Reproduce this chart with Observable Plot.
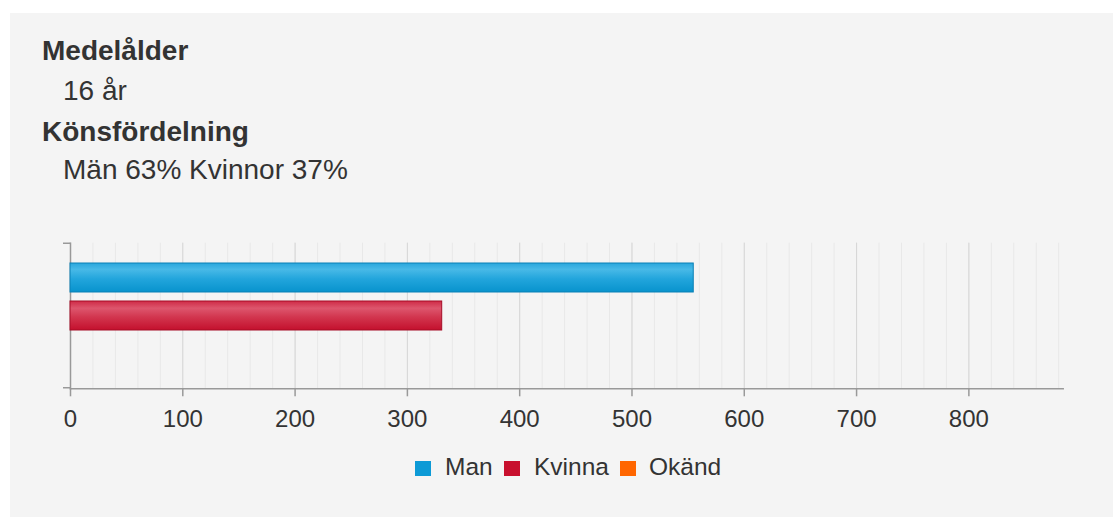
<!DOCTYPE html>
<html>
<head>
<meta charset="utf-8">
<script src="https://cdn.jsdelivr.net/npm/d3@7"></script>
<script src="https://cdn.jsdelivr.net/npm/@observablehq/plot@0.6"></script>
<style>
  html, body { margin: 0; padding: 0; background: #ffffff; }
  body { width: 1113px; height: 517px; position: relative; overflow: hidden;
         font-family: "Liberation Sans", Arial, sans-serif; color: #333; }
  #panel { position: absolute; left: 10px; top: 13px; right: 0; bottom: 0; background: #f4f4f4; }
  .t { position: absolute; white-space: nowrap; line-height: 1; font-size: 28px; color: #333; }
  .b { font-weight: bold; }
  #chart { position: absolute; left: 0; top: 200px; }
  #legend { position: absolute; top: 458px; left: 0; width: 1113px; height: 24px; }
  .li { position: absolute; top: 0; font-size: 24.5px; line-height: 1; color: #333; white-space: nowrap; }
  .sw { position: absolute; width: 16px; height: 15px; }
</style>
</head>
<body>
<div id="panel"></div>
<div id="head"></div>
<div id="chart"></div>
<div id="legend"></div>
<script>
// ---- data ----
const headings = ["Medelålder", "Könsfördelning"];
const headingValues = ["16 år", "Män 63% Kvinnor 37%"];
const series = ["Man", "Kvinna", "Okänd"];
const counts = [555, 331, 0];
const seriesColors = ["#0d9ad6", "#c8102e", "#ff6600"];
const majorTicks = [0, 100, 200, 300, 400, 500, 600, 700, 800];
const minorTicks = d3.range(0, 881, 20);
const xMax = 884;

const data = series.map((s, i) => ({sex: s, value: counts[i]}));

// ---- header texts ----
const head = document.getElementById("head");
const headPos = [[42, 61], [42, 141.5]];
const valPos = [[63, 101], [63, 180]];
headings.forEach((h, i) => {
  const d = document.createElement("div");
  d.className = "t b";
  d.textContent = h;
  d.style.left = headPos[i][0] + "px";
  d.style.top = (headPos[i][1] - 0.8465 * 28) + "px";
  head.appendChild(d);
  const v = document.createElement("div");
  v.className = "t";
  v.textContent = headingValues[i];
  v.style.left = valPos[i][0] + "px";
  v.style.top = (valPos[i][1] - 0.8465 * 28) + "px";
  head.appendChild(v);
});

// ---- chart ----
const W = 1113, H = 240;
const mL = 70, mR = 50.3, mT = 42.7, mB = 51.7;
const strokes = ["#0a80b5", "#a60d27", "#cc5200"];

const yTicksMark = (index, scales, values, dims) => {
  const g = d3.create("svg:g");
  g.append("path")
    .attr("d", `M${dims.marginLeft - 7},${dims.marginTop + 0.5}H${dims.marginLeft}M${dims.marginLeft - 7},${dims.height - dims.marginBottom - 0.5}H${dims.marginLeft}`)
    .attr("stroke", "#999").attr("stroke-width", 1.5).attr("fill", "none");
  return g.node();
};

const plot = Plot.plot({
  width: W, height: H,
  marginLeft: mL, marginRight: mR, marginTop: mT, marginBottom: mB,
  style: {background: "transparent", fontFamily: "'Liberation Sans', Arial, sans-serif", color: "#333", overflow: "visible"},
  x: {domain: [0, xMax], axis: null, label: null},
  y: {domain: series, paddingInner: 0.25, paddingOuter: 0.5, align: 0.5, axis: null, label: null},
  marks: [
    Plot.gridX(minorTicks, {stroke: "#e8e8e8", strokeOpacity: 1, strokeWidth: 1}),
    Plot.gridX(majorTicks, {stroke: "#d6d6d6", strokeOpacity: 1, strokeWidth: 1}),
    Plot.frame({anchor: "bottom", stroke: "#999", strokeWidth: 1.5}),
    Plot.frame({anchor: "left", stroke: "#999", strokeWidth: 1.5}),
    yTicksMark,
    Plot.axisX({ticks: majorTicks, tickSize: 8, tickPadding: 13, stroke: "#999", strokeWidth: 1.5,
                fill: "#333", fontSize: 24, label: null, tickFormat: d => String(d)}),
    ...series.map((s, i) => Plot.barX(data, {
      filter: d => d.sex === s && d.value > 0,
      x: "value", y: "sex",
      fill: `url(#grad${i})`, stroke: strokes[i], strokeWidth: 1
    }))
  ]
});

// gradients
const gradStops = [
  [["0%", "#2aa7dd"], ["22%", "#48b9e7"], ["55%", "#22a5dc"], ["100%", "#0893cd"]],
  [["0%", "#cf2b47"], ["25%", "#dd566d"], ["55%", "#d2364f"], ["100%", "#c4102d"]],
  [["0%", "#ff8533"], ["25%", "#ff944d"], ["55%", "#ff7722"], ["100%", "#f06000"]]
];
const defs = d3.select(plot).insert("defs", ":first-child");
gradStops.forEach((stops, i) => {
  const lg = defs.append("linearGradient").attr("id", `grad${i}`)
    .attr("x1", 0).attr("y1", 0).attr("x2", 0).attr("y2", 1);
  stops.forEach(([o, c]) => lg.append("stop").attr("offset", o).attr("stop-color", c));
});

document.getElementById("chart").appendChild(plot);

// ---- legend ----
const legend = document.getElementById("legend");
const swX = [415, 504, 620];
const txX = [445, 534, 649];
series.forEach((s, i) => {
  const sw = document.createElement("div");
  sw.className = "sw";
  sw.style.left = swX[i] + "px";
  sw.style.top = "3px";
  sw.style.background = seriesColors[i];
  legend.appendChild(sw);
  const t = document.createElement("div");
  t.className = "li";
  t.textContent = s;
  t.style.left = txX[i] + "px";
  t.style.top = (476 - 458 - 0.8465 * 24.5) + "px";
  legend.appendChild(t);
});
</script>
</body>
</html>
